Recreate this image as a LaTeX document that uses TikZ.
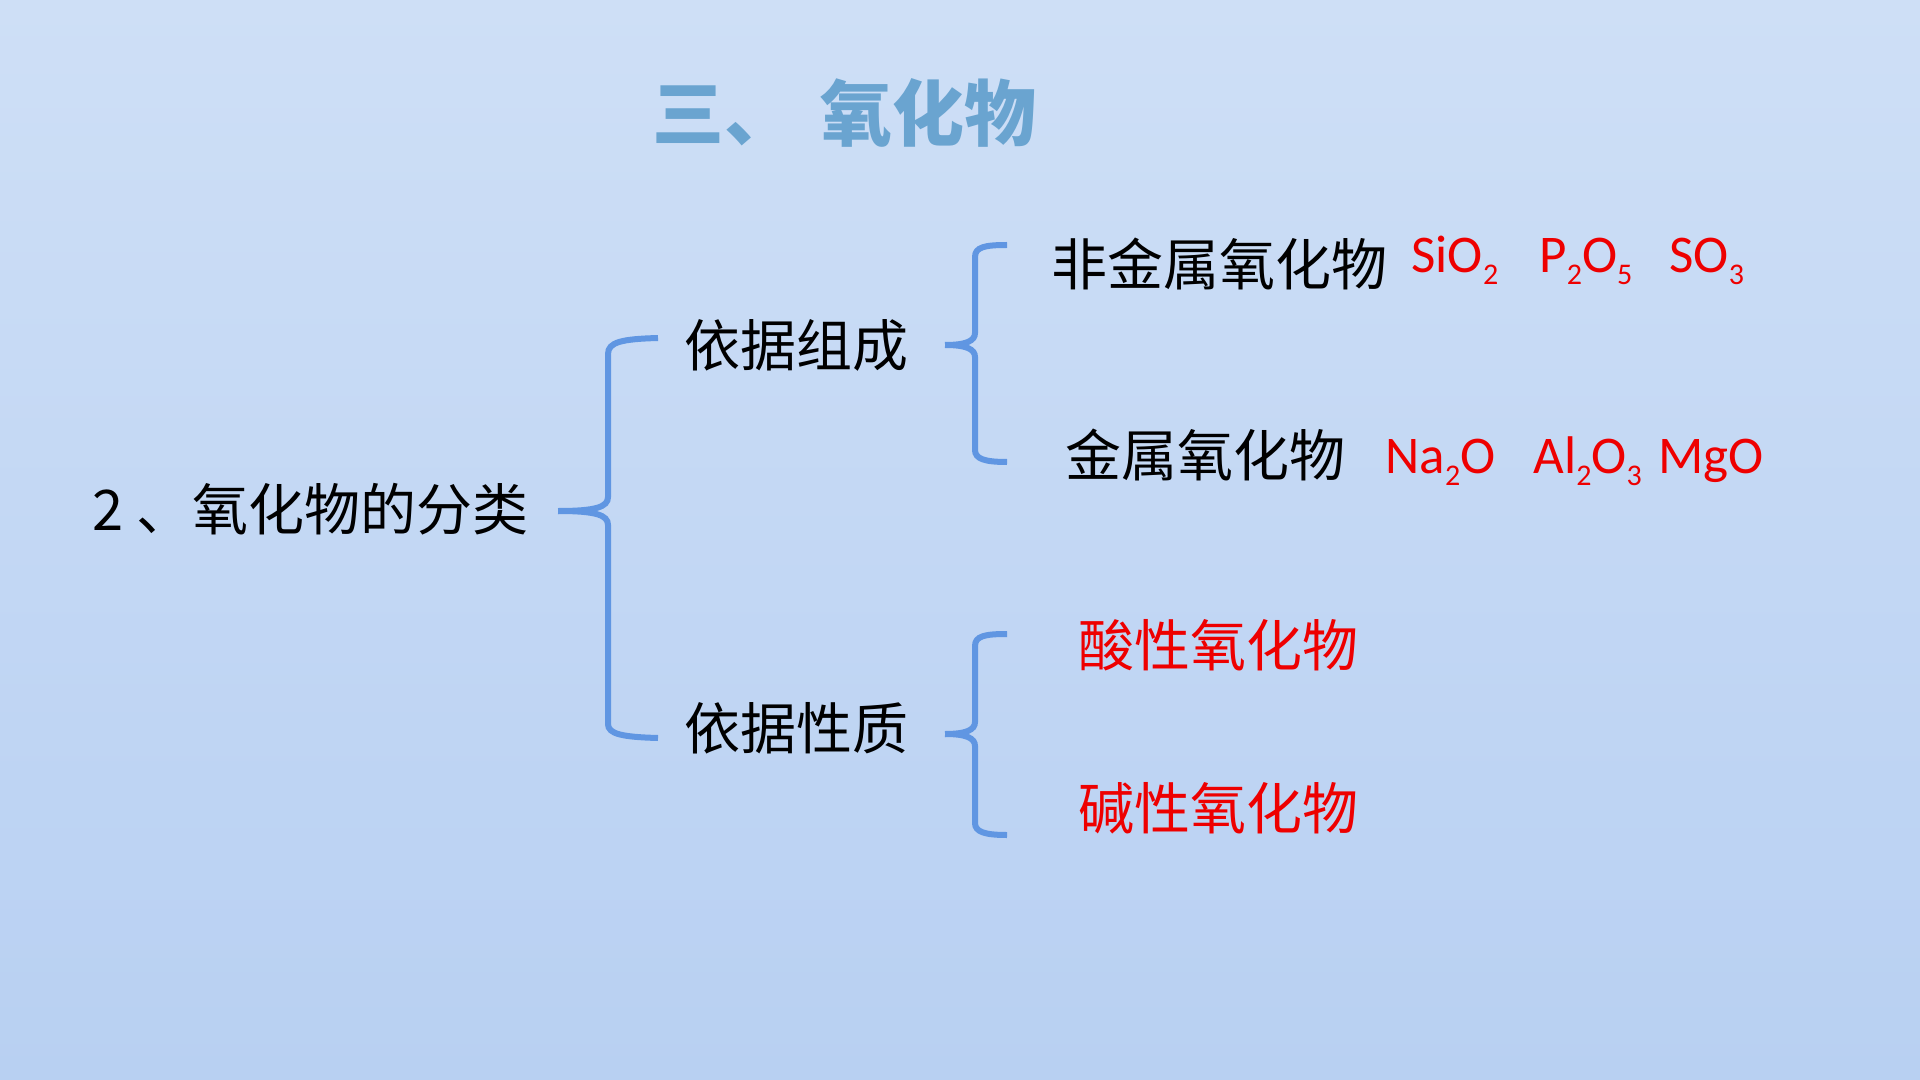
\documentclass[tikz,border=0pt]{standalone}
\usepackage{fontspec}
\setmainfont{Noto Sans CJK SC}
\newfontfamily\latf{Carlito}
\definecolor{bgtop}{RGB}{206,223,246}
\definecolor{bgbot}{RGB}{184,208,242}
\definecolor{brk}{RGB}{96,150,226}
\definecolor{ttl}{RGB}{106,164,208}
\definecolor{redx}{RGB}{238,0,0}
\newcommand\sbs[1]{\raisebox{-6pt}{\fontsize{15}{15}\selectfont #1}}
\tikzset{
  cjk/.style={inner sep=0pt, anchor=west, font=\fontsize{28}{34}\selectfont, text=black},
  redcjk/.style={cjk, text=redx},
  formula/.style={inner sep=0pt, anchor=base west, font=\latf\fontsize{26.5}{30}\selectfont, text=redx},
  brace/.style={draw=brk, line width=3pt},
}
\begin{document}
\begin{tikzpicture}[x=0.5pt,y=-0.5pt]
\shade[top color=bgtop, bottom color=bgbot] (0,0) rectangle (1920,1080);
\useasboundingbox (0,0) rectangle (1920,1080);

% title
\node[inner sep=0pt, anchor=west, font=\bfseries\fontsize{36}{40}\selectfont, text=ttl] (title) at (652,113) {三、\hspace{3.7pt} 氧化物};

% main text
\node[cjk] (main) at (92,509) {2 、氧化物的分类};
\node[cjk] (comp) at (684,345) {依据组成};
\node[cjk] (prop) at (684,728) {依据性质};
\node[cjk] (nonmet) at (1051,264) {非金属氧化物};
\node[cjk] (met) at (1065,455) {金属氧化物};
\node[redcjk] (acid) at (1078,645) {酸性氧化物};
\node[redcjk] (base) at (1078,808) {碱性氧化物};

% formulas
\node[formula] (sio2) at (1411,273) {SiO\sbs{2}};
\node[formula] (p2o5) at (1539,273) {P\sbs{2}O\sbs{5}};
\node[formula] (so3) at (1669,273) {SO\sbs{3}};
\node[formula] (na2o) at (1385,473) {Na\sbs{2}O};
\node[formula] (al2o3) at (1533,473) {Al\sbs{2}O\sbs{3}};
\node[formula] (mgo) at (1658,473) {MgO};

% big brace
\coordinate (bA) at (658,338);
\coordinate (bT) at (558,511);
\coordinate (bB) at (658,738);
\draw[brace] (bA) .. controls (622,339) and (608,342) .. (608,354) -- (608,497)
  .. controls (608,507) and (596,511) .. (bT);
\draw[brace] (bT) .. controls (596,511) and (608,515) .. (608,525) -- (608,724)
  .. controls (608,734) and (622,737) .. (bB);

% upper small brace
\coordinate (cA) at (1007,245);
\coordinate (cT) at (945,345);
\coordinate (cB) at (1007,462);
\draw[brace] (cA) .. controls (985,245) and (975,247) .. (975,257) -- (975,333)
  .. controls (975,341) and (966,345) .. (cT);
\draw[brace] (cT) .. controls (966,345) and (975,349) .. (975,357) -- (975,450)
  .. controls (975,459) and (985,462) .. (cB);

% lower small brace
\coordinate (dA) at (1007,634);
\coordinate (dT) at (945,734);
\coordinate (dB) at (1007,835);
\draw[brace] (dA) .. controls (985,634) and (975,636) .. (975,646) -- (975,722)
  .. controls (975,730) and (966,734) .. (dT);
\draw[brace] (dT) .. controls (966,734) and (975,738) .. (975,746) -- (975,823)
  .. controls (975,832) and (985,835) .. (dB);
\end{tikzpicture}
\end{document}
